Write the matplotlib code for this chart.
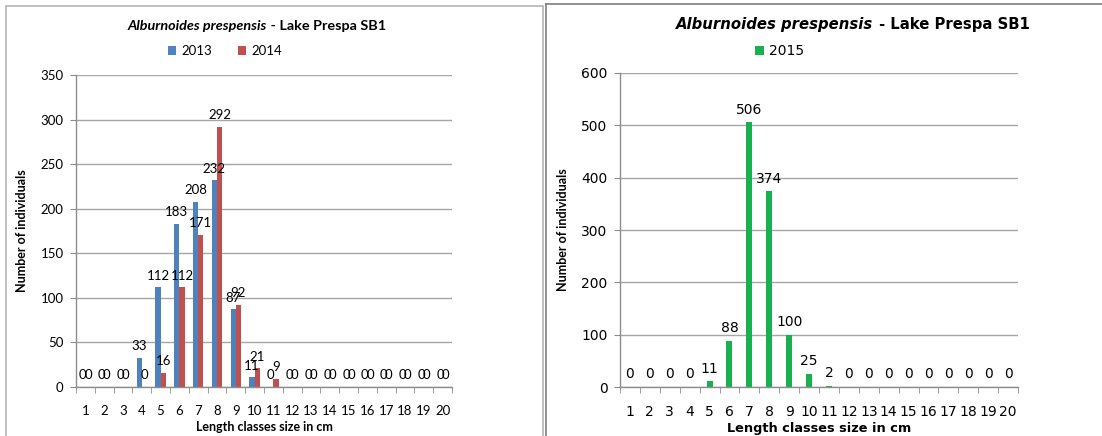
import matplotlib.pyplot as plt
import numpy as np

classes = list(range(1, 21))
counts_2013 = [0, 0, 0, 33, 112, 183, 208, 232, 87, 11, 0, 0, 0, 0, 0, 0, 0, 0, 0, 0]
counts_2014 = [0, 0, 0, 0, 16, 112, 171, 292, 92, 21, 9, 0, 0, 0, 0, 0, 0, 0, 0, 0]
counts_2015 = [0, 0, 0, 0, 11, 88, 506, 374, 100, 25, 2, 0, 0, 0, 0, 0, 0, 0, 0, 0]

W, H = 1102, 436
GRID = '#a6a6a6'
SPINE = '#8c8c8c'


def px_axes(fig, x0, x1, ytop, ybot):
    return fig.add_axes([x0 / W, (H - ybot) / H, (x1 - x0) / W, (ybot - ytop) / H])


def style_axes(ax, ymax, step, font, fs):
    x = np.arange(1, 21)
    ax.set_xlim(0.5, 20.5)
    ax.set_ylim(0, ymax)
    ax.set_yticks(np.arange(0, ymax + 1, step))
    ax.set_xticks(x)
    ax.set_xticklabels([str(c) for c in classes], family=font, fontsize=fs)
    ax.set_xticks(np.arange(0.5, 21, 1), minor=True)
    ax.tick_params(axis='x', which='major', length=0, pad=13)
    ax.tick_params(axis='x', which='minor', length=4, color=SPINE, direction='out')
    ax.tick_params(axis='y', length=4, color=SPINE, pad=5, labelsize=fs)
    for lab in ax.get_yticklabels():
        lab.set_family(font)
    ax.yaxis.grid(True, color=GRID, linewidth=1)
    ax.set_axisbelow(True)
    for s in ['top', 'right']:
        ax.spines[s].set_visible(False)
    for s in ['left', 'bottom']:
        ax.spines[s].set_color(SPINE)
        ax.spines[s].set_linewidth(1)


def label_bars(ax, bars, values, font, fs):
    for b, v in zip(bars, values):
        ax.annotate(str(v), (b.get_x() + b.get_width() / 2, b.get_height()),
                    xytext=(0, 4), textcoords='offset points', ha='center', va='bottom',
                    family=font, fontsize=fs)


fig = plt.figure(figsize=(W / 100, H / 100), dpi=100)

# panel frames
fig.patches.append(plt.Rectangle((6 / W, -0.1), 537 / W, (H - 6) / H + 0.1, transform=fig.transFigure,
                                 fill=False, edgecolor='#b4b4b4', linewidth=1.2))
fig.add_artist(plt.Line2D([546 / W, 546 / W], [0, (H - 4) / H], transform=fig.transFigure,
                          color='#7f7f7f', linewidth=1.2))
fig.add_artist(plt.Line2D([546 / W, 1], [(H - 4) / H, (H - 4) / H], transform=fig.transFigure,
                          color='#7f7f7f', linewidth=1.2))

x = np.arange(1, 21)

# left chart: 2013 and 2014
fl = 'Lato'
ax1 = px_axes(fig, 76, 452, 75, 387)
style_axes(ax1, 350, 50, fl, 9.5)
w = 0.28
b13 = ax1.bar(x - w / 2, counts_2013, w, color='#4f81bd', label='2013')
b14 = ax1.bar(x + w / 2, counts_2014, w, color='#c0504d', label='2014')
label_bars(ax1, b13, counts_2013, fl, 9.5)
label_bars(ax1, b14, counts_2014, fl, 9.5)
ax1.set_xlabel('Length classes size in cm', family=fl, fontweight='bold', fontsize=9, labelpad=3)
ax1.set_ylabel('Number of individuals', family=fl, fontweight='bold', fontsize=9, labelpad=9)
t1a = fig.text(0, 0, 'Alburnoides prespensis', family=fl, style='italic', fontweight='bold', fontsize=10.4)
t1b = fig.text(0, 0, ' - Lake Prespa SB1', family=fl, fontweight='bold', fontsize=10.4)
ax1.legend(loc='center', bbox_to_anchor=(225 / W, 1 - 51 / H), bbox_transform=fig.transFigure,
           ncol=2, frameon=False, handlelength=0.6, handleheight=0.6, handletextpad=0.4,
           columnspacing=2.0, prop={'family': fl, 'size': 9.5})

# right chart: 2015
fr = 'DejaVu Sans'
ax2 = px_axes(fig, 620, 1018, 73, 387)
style_axes(ax2, 600, 100, fr, 10)
b15 = ax2.bar(x, counts_2015, 0.3, color='#19b04f', label='2015')
label_bars(ax2, b15, counts_2015, fr, 10)
ax2.set_xlabel('Length classes size in cm', family=fr, fontweight='bold', fontsize=9.3, labelpad=2)
ax2.set_ylabel('Number of individuals', family=fl, fontweight='bold', fontsize=9, labelpad=9)
t2a = fig.text(0, 0, 'Alburnoides prespensis', family=fr, style='italic', fontweight='bold', fontsize=10.7)
t2b = fig.text(0, 0, ' - Lake Prespa SB1', family=fr, fontweight='bold', fontsize=10.7)
ax2.legend(loc='center', bbox_to_anchor=(780 / W, 1 - 51 / H), bbox_transform=fig.transFigure,
           frameon=False, handlelength=0.6, handleheight=0.6, handletextpad=0.4,
           prop={'family': fr, 'size': 10})

# two-part titles, centred as a whole
fig.canvas.draw()
r = fig.canvas.get_renderer()
for ta, tb, cx, cy in [(t1a, t1b, 257, 26), (t2a, t2b, 853, 25)]:
    wa = ta.get_window_extent(r).width
    wb = tb.get_window_extent(r).width
    left = cx - (wa + wb) / 2
    ta.set_position((left / W, 1 - cy / H))
    tb.set_position(((left + wa) / W, 1 - cy / H))
    ta.set_va('center')
    tb.set_va('center')

fig.savefig('out.png', dpi=100)
